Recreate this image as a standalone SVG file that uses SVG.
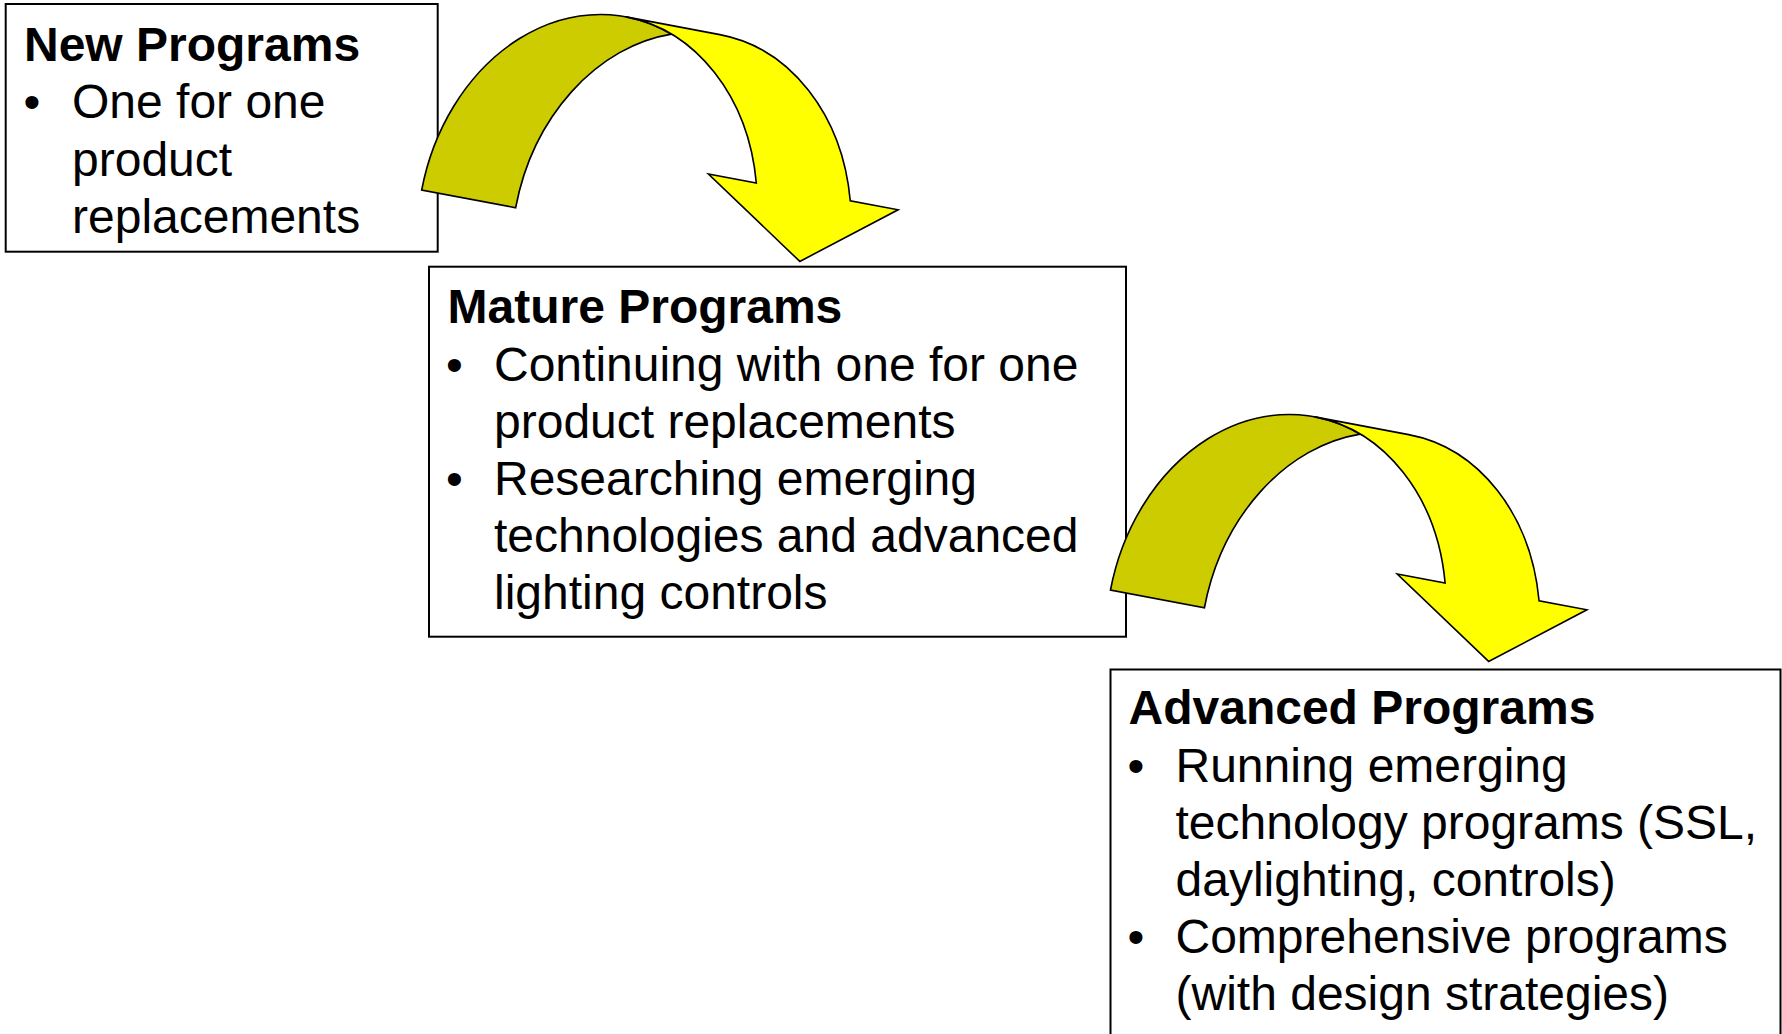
<svg xmlns="http://www.w3.org/2000/svg" width="1782" height="1034" viewBox="0 0 1782 1034">
  <style>
    .box { fill: #ffffff; stroke: #000000; stroke-width: 2; }
    .title { font-family: "Liberation Sans", Arial, sans-serif; font-weight: bold; font-size: 48px; fill: #000000; }
    .item { font-family: "Liberation Sans", Arial, sans-serif; font-size: 48px; fill: #000000; }
    .front { fill: #ffff00; stroke: #000000; stroke-width: 1.6; stroke-linejoin: miter; }
    .back { fill: #cccc00; stroke: #000000; stroke-width: 1.6; stroke-linejoin: miter; }
  </style>
  <defs>
    <!-- Curved down arrow in local coordinates: origin at the left foot, y up is negative -->
    <g id="curved-arrow">
      <path class="back" d="M216.3,-199.5 A168.5,208 0 0 0 95.6,0 L0,0 A168.5,208 0 0 1 216.3,-199.5 Z"/>
      <path class="front" d="M384.8,0 L278.8,-69 L327.5,-69 A168.5,208 0 0 0 168.5,-208 L264.1,-208 A168.5,208 0 0 1 423.1,-69 L471.8,-69 Z"/>
    </g>
  </defs>

  <rect width="1782" height="1034" fill="#ffffff"/>

  <g id="node-new">
    <rect class="box" x="5.7" y="4" width="432" height="247.7"/>
    <text class="title" x="24" y="61">New Programs</text>
    <text class="item" x="23.5" y="118.3">•</text>
    <text class="item" x="72" y="118.3">One for one</text>
    <text class="item" x="72" y="175.6">product</text>
    <text class="item" x="72" y="233">replacements</text>
  </g>

  <g id="node-mature">
    <rect class="box" x="429" y="266.7" width="697" height="370"/>
    <text class="title" x="447.5" y="323.3">Mature Programs</text>
    <text class="item" x="446" y="380.7">•</text>
    <text class="item" x="494" y="380.7">Continuing with one for one</text>
    <text class="item" x="494" y="437.8">product replacements</text>
    <text class="item" x="446" y="495">•</text>
    <text class="item" x="494" y="495">Researching emerging</text>
    <text class="item" x="494" y="552.2">technologies and advanced</text>
    <text class="item" x="494" y="609.3">lighting controls</text>
  </g>

  <g id="node-advanced">
    <rect class="box" x="1110.5" y="669.5" width="670" height="380"/>
    <text class="title" x="1128.5" y="724.3">Advanced Programs</text>
    <text class="item" x="1127.5" y="781.7">•</text>
    <text class="item" x="1175.5" y="781.7">Running emerging</text>
    <text class="item" x="1175.5" y="838.8">technology programs (SSL,</text>
    <text class="item" x="1175.5" y="895.9">daylighting, controls)</text>
    <text class="item" x="1127.5" y="953">•</text>
    <text class="item" x="1175.5" y="953">Comprehensive programs</text>
    <text class="item" x="1175.5" y="1010.1">(with design strategies)</text>
  </g>

  <g id="connectors">
    <use href="#curved-arrow" transform="translate(421.7,190) rotate(10.7)"/>
    <use href="#curved-arrow" transform="translate(1110.5,590) rotate(10.7)"/>
  </g>
</svg>
